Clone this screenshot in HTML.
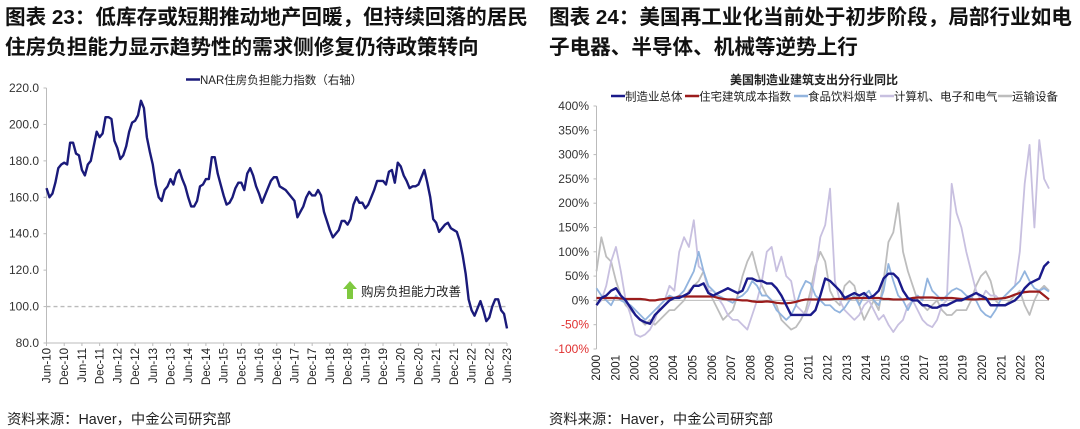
<!DOCTYPE html>
<html><head><meta charset="utf-8">
<style>
body{margin:0;width:1080px;height:429px;background:#fff;overflow:hidden;font-family:"Liberation Sans","Noto Sans CJK SC",sans-serif;}
.t{position:absolute;font-weight:bold;font-size:20.6px;line-height:30px;color:#111;white-space:nowrap;}
.src{position:absolute;font-size:14.3px;color:#222;top:408px;}
svg{position:absolute;left:0;top:0}
</style></head><body>
<div class="t" style="left:5px;top:3px;">图表 23：低库存或短期推动地产回暖，但持续回落的居民<br>住房负担能力显示趋势性的需求侧修复仍待政策转向</div>
<div class="t" style="left:549px;top:3px;">图表 24：美国再工业化当前处于初步阶段，局部行业如电<br>子电器、半导体、机械等逆势上行</div>
<div class="src" style="left:7px">资料来源：Haver，中金公司研究部</div>
<div class="src" style="left:549px">资料来源：Haver，中金公司研究部</div>
<svg id="c" width="1080" height="429"></svg>
<script>
// ---- Left chart data ----
const leftTickLabels=["Jun-10","Dec-10","Jun-11","Dec-11","Jun-12","Dec-12","Jun-13","Dec-13","Jun-14","Dec-14","Jun-15","Dec-15","Jun-16","Dec-16","Jun-17","Dec-17","Jun-18","Dec-18","Jun-19","Dec-19","Jun-20","Dec-20","Jun-21","Dec-21","Jun-22","Dec-22","Jun-23"];
const leftYTicks=[80,100,120,140,160,180,200,220];
const narIndex=[165,160,162,168,176,178,179,178,190,190,184,183,175,172,178,180,188,196,193,195,204,204,203,191,187,181,183,188,196,201,202,205,213,209,193,185,178,167,160,158,164,166,170,167,173,175,170,166,160,155,155,158,166,167,170,170,182,182,173,167,161,156,157,160,165,168,168,164,173,176,172,166,162,157,161,165,169,171,171,166,165,164,162,160,158,149,152,155,160,163,161,161,164,161,152,147,142,138,140,142,147,147,145,148,156,160,157,157,154,156,160,164,169,169,169,167,174,175,168,179,177,172,169,165,166,166,167,171,175,168,160,148,146,141,143,145,146,143,142,141,136,128,118,104,98,95,99,103,98,92,94,100,104,104,98,96,88];
const affordLine=100;
// ---- Right chart data ----
const rightYears=["2000","2001","2002","2003","2004","2005","2006","2007","2008","2009","2010","2011","2012","2013","2014","2015","2016","2017","2018","2019","2020","2021","2022","2023"];
const rightYTicks=[-100,-50,0,50,100,150,200,250,300,350,400];
const mfgTotal=[-10,5,10,20,25,10,0,-15,-30,-40,-45,-48,-30,-20,-10,0,5,5,10,15,30,30,35,15,10,15,20,25,20,15,20,45,45,40,40,35,35,25,10,-10,-30,-30,-30,-30,-30,-20,10,45,40,30,20,5,10,15,10,15,5,10,20,45,55,55,45,20,5,0,0,-10,-10,-15,-15,-10,-10,-5,0,0,5,10,15,10,5,-10,-10,-10,-10,-5,0,10,25,35,40,45,70,80];
const resCost=[5,5,5,5,5,4,3,3,3,3,2,0,0,2,3,5,5,8,8,8,8,8,8,8,8,5,3,2,2,1,0,0,-2,-3,-3,-2,-3,-5,-6,-6,-5,-3,0,2,2,2,2,2,2,3,3,3,4,5,5,5,5,5,5,3,3,2,2,2,3,5,6,6,6,6,5,5,5,5,4,3,3,2,2,3,3,3,3,4,5,8,12,15,17,18,18,18,10,2];
const foodBev=[25,10,0,-10,10,0,-5,-10,-20,-30,-40,-30,-20,-10,0,10,5,10,20,40,60,100,60,30,20,10,5,0,-5,5,10,20,40,30,10,10,0,-20,-30,-40,-30,-10,20,40,35,10,0,-10,-10,-20,-25,-15,0,10,-10,10,20,0,-10,20,75,40,10,0,-20,0,10,0,45,20,10,0,10,20,25,20,10,5,0,-20,-30,-35,-20,0,10,20,30,40,60,40,25,20,25,18];
const computers=[-10,0,30,80,110,60,0,-30,-70,-75,-70,-60,-40,-10,0,30,20,100,130,110,165,70,60,20,20,5,-10,-30,-40,-40,-50,-60,-30,0,40,100,110,60,90,50,40,-10,-20,-30,0,60,130,155,230,40,0,-20,-30,-40,-30,-10,0,-20,-40,-30,-50,-65,-50,-40,-10,0,-20,-40,-50,-55,-40,-10,0,240,180,150,100,60,20,0,20,10,10,0,10,20,30,100,240,320,150,330,250,230];
const transport=[60,130,90,80,40,10,-10,-20,-30,-40,-50,-40,-50,-40,-30,-20,-20,-10,0,20,30,40,60,20,0,-20,-40,-30,-20,10,50,80,100,60,30,10,0,-10,-40,-50,-60,-55,-40,-20,20,70,100,80,20,0,-10,30,40,30,-10,-40,-20,0,-20,40,120,140,200,100,60,30,0,-10,-20,-10,0,-20,-30,-30,-20,-20,-20,0,30,50,60,40,0,-10,-10,0,10,20,-10,-30,0,20,30,20];

const svg=document.getElementById('c');
const NS='http://www.w3.org/2000/svg';
function mk(tag,attrs,parent){const e=document.createElementNS(NS,tag);for(const k in attrs)e.setAttribute(k,attrs[k]);(parent||svg).appendChild(e);return e;}
const FONT='"Liberation Sans","Noto Sans CJK SC",sans-serif';

// ===== Left chart =====
const L={x0:46.5,x1:507,y0:343,y1:88,vmin:80,vmax:220};
const lx=i=>L.x0+(L.x1-L.x0)*i/(narIndex.length-1);
const ly=v=>L.y0-(v-L.vmin)/(L.vmax-L.vmin)*(L.y0-L.y1);
let ax=mk('line',{x1:L.x0,y1:L.y1,x2:L.x0,y2:L.y0,stroke:'#bbb','stroke-width':1});

ax=mk('line',{x1:L.x0,y1:L.y0,x2:L.x1,y2:L.y0,stroke:'#bbb','stroke-width':1});

leftYTicks.forEach(v=>{
  const t=mk('text',{x:39,y:ly(v)+4,'text-anchor':'end','font-size':12,fill:'#333','font-family':FONT});t.textContent=v.toFixed(1);
  
  mk('line',{x1:L.x0-3,y1:ly(v),x2:L.x0,y2:ly(v),stroke:'#bbb'});
});
leftTickLabels.forEach((s,i)=>{
  const x=L.x0+(L.x1-L.x0)*i/(leftTickLabels.length-1);
  mk('line',{x1:x,y1:L.y0,x2:x,y2:L.y0+3,stroke:'#bbb'});
  const t=mk('text',{x:0,y:0,transform:`translate(${x+4},${L.y0+5}) rotate(-90)`,'text-anchor':'end','font-size':11.5,fill:'#222','font-family':FONT});t.textContent=s;
  
});
let dl=mk('line',{x1:L.x0,y1:ly(affordLine),x2:L.x1,y2:ly(affordLine),stroke:'#bbb','stroke-width':1.3,'stroke-dasharray':'4,3'});

let p=mk('polyline',{points:narIndex.map((v,i)=>lx(i)+','+ly(v)).join(' '),fill:'none',stroke:'#1a1a7a','stroke-width':2.4,'stroke-linejoin':'round'});

let ar=mk('polygon',{points:'350,281 357,289 353,289 353,299 347,299 347,289 343,289',fill:'#7fc940'});

let at=mk('text',{x:361,y:296,'font-size':12.5,fill:'#222','font-family':FONT});at.textContent='购房负担能力改善';

let lg=mk('line',{x1:186,y1:79.5,x2:200,y2:79.5,stroke:'#1a1a7a','stroke-width':2.5});

let lgt=mk('text',{x:200,y:84,'font-size':11.5,fill:'#222','font-family':FONT});lgt.textContent='NAR住房负担能力指数（右轴）';


// ===== Right chart =====
const R={x0:596.5,yr0:596,yrStep:19.3,y0:349,y1:106,vmin:-100,vmax:400,xEnd:1049};
const ry=v=>R.y0-(v-R.vmin)/(R.vmax-R.vmin)*(R.y0-R.y1);
const rx=(i,n)=>R.x0+(R.xEnd-R.x0)*i/(n-1);
ax=mk('line',{x1:R.x0,y1:R.y1,x2:R.x0,y2:R.y0,stroke:'#bbb'});

ax=mk('line',{x1:R.x0,y1:ry(0),x2:R.xEnd,y2:ry(0),stroke:'#bbb'});

rightYTicks.forEach(v=>{
  const t=mk('text',{x:589,y:ry(v)+4,'text-anchor':'end','font-size':12,fill:v<0?'#e03030':'#333','font-family':FONT});t.textContent=v+'%';
  
  mk('line',{x1:R.x0-3,y1:ry(v),x2:R.x0,y2:ry(v),stroke:'#bbb'});
});
rightYears.forEach((s,i)=>{
  const x=R.yr0+R.yrStep*i;
  const t=mk('text',{x:0,y:0,transform:`translate(${x+4},${R.y0+6}) rotate(-90)`,'text-anchor':'end','font-size':11.5,fill:'#222','font-family':FONT});t.textContent=s;
  
});
const series=[
 {d:transport,c:'#bdbdbd',n:'transport-equipment-line',w:1.8},
 {d:computers,c:'#c8c0e0',n:'computers-electronics-line',w:1.8},
 {d:foodBev,c:'#92b4de',n:'food-beverage-line',w:1.8},
 {d:resCost,c:'#9b1c1c',n:'residential-cost-index-line',w:2.2},
 {d:mfgTotal,c:'#1a1a8a',n:'manufacturing-total-line',w:2.4}];
series.forEach(s=>{
  const e=mk('polyline',{points:s.d.map((v,i)=>rx(i,s.d.length)+','+ry(v)).join(' '),fill:'none',stroke:s.c,'stroke-width':s.w,'stroke-linejoin':'round'});
  
});
let rt=mk('text',{x:814,y:84,'text-anchor':'middle','font-size':12,'font-weight':'bold',fill:'#222','font-family':FONT});rt.textContent='美国制造业建筑支出分行业同比';

const legendItems=[['制造业总体','#1a1a8a',611],['住宅建筑成本指数','#9b1c1c',685],['食品饮料烟草','#92b4de',794],['计算机、电子和电气','#c8c0e0',880],['运输设备','#bdbdbd',998]];
legendItems.forEach(([s,c,x])=>{
  const l=mk('line',{x1:x,y1:96,x2:x+14,y2:96,stroke:c,'stroke-width':2.5});
  
  const t=mk('text',{x:x+14,y:100.5,'font-size':11.5,fill:'#222','font-family':FONT});t.textContent=s;
  
});
</script>
</body></html>
